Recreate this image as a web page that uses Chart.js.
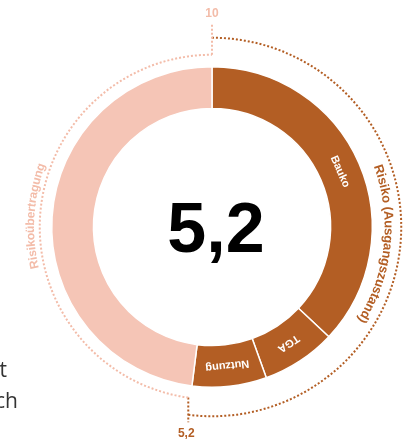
<!DOCTYPE html>
<html>
<head>
<meta charset="utf-8">
<script src="https://cdn.jsdelivr.net/npm/chart.js@4/dist/chart.umd.min.js"></script>
<style>
html,body{margin:0;padding:0;background:#fff;}
#wrap{position:relative;width:405px;height:439px;}
canvas{display:block;}
</style>
</head>
<body>
<div id="wrap"><canvas id="c" width="405" height="439"></canvas></div>
<script>
// ---- data ----
const categories = ['Bauko', 'TGA', 'Nutzung', 'Risikoübertragung'];
const values = [3.7, 0.75, 0.75, 4.8];
const groupLabels = ['Risiko (Ausgangszustand)', 'Risikoübertragung'];
const scaleLabels = ['10', '5,2'];
const centerLabel = '5,2';
const pageText = ['t', 'ch'];

const DARK = '#B35E24';
const LIGHT = '#F5C5B6';
const LIGHT_TXT = '#F3BCA9';
const colors = [DARK, DARK, DARK, LIGHT];

function curvedText(ctx, text, cx, cy, rho, thetaCenter) {
  const w = ctx.measureText(text).width;
  let theta = thetaCenter - (w / rho) / 2;
  for (const ch of text) {
    const cw = ctx.measureText(ch).width;
    const a = theta + (cw / 2) / rho;
    ctx.save();
    ctx.translate(cx + rho * Math.sin(a), cy - rho * Math.cos(a));
    ctx.rotate(a);
    ctx.textAlign = 'center';
    ctx.textBaseline = 'middle';
    ctx.fillText(ch, 0, 0);
    ctx.restore();
    theta += cw / rho;
  }
}

const annot = {
  id: 'annot',
  afterDraw(chart) {
    const ctx = chart.ctx;
    const arcs = chart.getDatasetMeta(0).data;
    const cx = arcs[0].x, cy = arcs[0].y;
    const R = arcs[0].outerRadius, ri = arcs[0].innerRadius;
    const th = a => a + Math.PI / 2; // canvas angle -> clockwise from top
    const pt = (t, rho) => [cx + rho * Math.sin(t), cy - rho * Math.cos(t)];

    // segment labels
    ctx.save();
    ctx.fillStyle = '#fff';
    ctx.font = 'bold 11px "Liberation Sans", Arial, sans-serif';
    for (let i = 0; i < 3; i++) {
      const t = th((arcs[i].startAngle + arcs[i].endAngle) / 2);
      const [x, y] = pt(t, (R + ri) / 2);
      ctx.save();
      ctx.translate(x, y);
      ctx.rotate(t);
      ctx.textAlign = 'center';
      ctx.textBaseline = 'middle';
      ctx.fillText(categories[i], 0, 0);
      ctx.restore();
    }
    ctx.restore();

    // center value
    ctx.save();
    ctx.fillStyle = '#000';
    ctx.font = 'bold 70px "Liberation Sans", Arial, sans-serif';
    ctx.textAlign = 'center';
    ctx.textBaseline = 'alphabetic';
    ctx.fillText(centerLabel, cx + 4, cy + 25);
    ctx.restore();

    const rhoD = R + 29, rhoL = R + 12;
    const dStart = arcs[0].startAngle, dEnd = arcs[2].endAngle;
    const tickX = cx + rhoD * Math.sin(th(dEnd));

    ctx.save();
    ctx.lineWidth = 2;
    ctx.setLineDash([2, 2]);
    // dark dotted arc
    ctx.strokeStyle = DARK;
    ctx.beginPath();
    ctx.arc(cx, cy, rhoD, dStart, dEnd);
    ctx.stroke();
    // dark tick at bottom
    const yTop = cy + Math.sqrt(rhoL * rhoL - (tickX - cx) * (tickX - cx));
    ctx.beginPath();
    ctx.moveTo(tickX, yTop);
    ctx.lineTo(tickX, cy + rhoD + 6);
    ctx.stroke();
    // light dotted arc
    ctx.strokeStyle = LIGHT_TXT;
    const lStartT = Math.PI + Math.asin((cx - tickX) / rhoL);
    ctx.beginPath();
    ctx.arc(cx, cy, rhoL, lStartT - Math.PI / 2, arcs[3].endAngle);
    ctx.stroke();
    // light tick at top
    ctx.beginPath();
    ctx.moveTo(cx, cy - rhoL);
    ctx.lineTo(cx, cy - rhoL - 30);
    ctx.stroke();
    ctx.restore();

    // scale labels
    ctx.save();
    ctx.font = 'bold 12px "Liberation Sans", Arial, sans-serif';
    ctx.textAlign = 'center';
    ctx.textBaseline = 'middle';
    ctx.fillStyle = LIGHT_TXT;
    ctx.fillText(scaleLabels[0], cx, cy - rhoL - 41);
    ctx.fillStyle = DARK;
    ctx.fillText(scaleLabels[1], tickX - 2, cy + rhoD + 17);
    ctx.restore();

    // curved group labels
    ctx.save();
    ctx.fillStyle = DARK;
    ctx.font = 'bold 13px "Liberation Sans", Arial, sans-serif';
    curvedText(ctx, groupLabels[0], cx, cy, R + 16, 96 * Math.PI / 180);
    ctx.fillStyle = LIGHT_TXT;
    ctx.font = 'bold 12px "Liberation Sans", Arial, sans-serif';
    curvedText(ctx, groupLabels[1], cx, cy, R + 21, th((arcs[3].startAngle + arcs[3].endAngle) / 2));
    ctx.restore();

    // surrounding page text (cropped)
    ctx.save();
    ctx.fillStyle = '#333';
    ctx.font = '21px "Open Sans", sans-serif';
    ctx.textAlign = 'right';
    ctx.textBaseline = 'alphabetic';
    ctx.fillText(pageText[0], 7, 377);
    ctx.fillText(pageText[1], 18, 408);
    ctx.restore();
  }
};

new Chart(document.getElementById('c'), {
  type: 'doughnut',
  data: {
    labels: categories,
    datasets: [{
      data: values,
      backgroundColor: colors,
      borderColor: '#fff',
      borderWidth: 1.5,
      hoverOffset: 0
    }]
  },
  options: {
    responsive: false,
    animation: false,
    devicePixelRatio: 1,
    cutout: '74%',
    layout: { padding: { left: 51, right: 32, top: 66, bottom: 51 } },
    plugins: { legend: { display: false }, tooltip: { enabled: false } }
  },
  plugins: [annot]
});
</script>
</body>
</html>
